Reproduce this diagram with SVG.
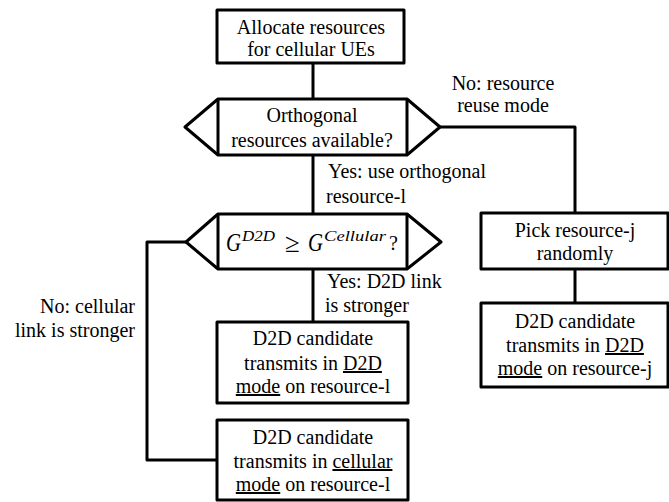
<svg xmlns="http://www.w3.org/2000/svg" width="669" height="502" viewBox="0 0 669 502">
<style>
.box{fill:#fff;stroke:#000;stroke-width:3;stroke-linejoin:round}
.conn{fill:none;stroke:#000;stroke-width:3;stroke-linejoin:round}
text{font-family:'Liberation Serif','Times New Roman',Tinos,'DejaVu Serif',serif;font-size:20px;fill:#000}
.c{text-anchor:middle}
.e{text-anchor:end}
.u{text-decoration:underline}
.g{font-style:italic;font-size:25px}
.s{font-style:italic;font-size:15px}
.ge{font-size:27px}
</style>
<rect width="669" height="502" fill="#fff"/>
<g id="connectors">
<path class="conn" d="M313,63 V99"/>
<path class="conn" d="M440,127 H575 V213"/>
<path class="conn" d="M313,155 V214"/>
<path class="conn" d="M313,269 V322"/>
<path class="conn" d="M186,242 H147 V460 H217"/>
<path class="conn" d="M575,269 V303"/>
</g>
<g id="n_allocate">
<rect class="box" x="217" y="10" width="187" height="53"/>
<text class="c" x="311" y="34">Allocate resources</text>
<text class="c" x="311" y="56">for cellular UEs</text>
</g>
<g id="n_orthogonal">
<polygon class="box" points="218,99 407,99 440,127 407,155 218,155 185,127"/>
<path class="conn" d="M218,99 V155 M407,99 V155"/>
<text class="c" x="312" y="122">Orthogonal</text>
<text class="c" x="312" y="147">resources available?</text>
</g>
<g id="n_compare">
<polygon class="box" points="218,214 407,214 441,242 407,269 218,269 186,242"/>
<path class="conn" d="M218,214 V269 M407,214 V269"/>
<text x="226" y="251" class="g" textLength="15" lengthAdjust="spacingAndGlyphs">G</text>
<text x="242" y="241" class="s" textLength="33" lengthAdjust="spacingAndGlyphs">D2D</text>
<text x="285" y="252" class="ge">≥</text>
<text x="308" y="251" class="g" textLength="15" lengthAdjust="spacingAndGlyphs">G</text>
<text x="324" y="241" class="s" textLength="62" lengthAdjust="spacingAndGlyphs">Cellular</text>
<text x="389" y="250">?</text>
</g>
<g id="n_pick">
<rect class="box" x="481" y="213" width="187" height="56"/>
<text class="c" x="575" y="237">Pick resource-j</text>
<text class="c" x="575" y="260">randomly</text>
</g>
<g id="n_d2d_j">
<rect class="box" x="481" y="303" width="187" height="84"/>
<text class="c" x="575" y="328">D2D candidate</text>
<text class="c" x="575" y="352">transmits in <tspan class="u">D2D</tspan></text>
<text class="c" x="575" y="375"><tspan class="u">mode</tspan> on resource-j</text>
</g>
<g id="n_d2d_l">
<rect class="box" x="217" y="322" width="191" height="81"/>
<text class="c" x="313" y="345">D2D candidate</text>
<text class="c" x="313" y="370">transmits in <tspan class="u">D2D</tspan></text>
<text class="c" x="313" y="393"><tspan class="u">mode</tspan> on resource-l</text>
</g>
<g id="n_cell_l">
<rect class="box" x="217" y="420" width="191" height="80"/>
<text class="c" x="313" y="444">D2D candidate</text>
<text class="c" x="313" y="468">transmits in <tspan class="u">cellular</tspan></text>
<text class="c" x="313" y="491"><tspan class="u">mode</tspan> on resource-l</text>
</g>
<g id="labels">
<text class="c" x="503" y="90">No: resource</text>
<text class="c" x="503" y="112">reuse mode</text>
<text x="328" y="178">Yes: use orthogonal</text>
<text x="326" y="203">resource-l</text>
<text x="327" y="288">Yes: D2D link</text>
<text x="325" y="312">is stronger</text>
<text class="e" x="135" y="313">No: cellular</text>
<text class="e" x="135" y="337">link is stronger</text>
</g>
</svg>
